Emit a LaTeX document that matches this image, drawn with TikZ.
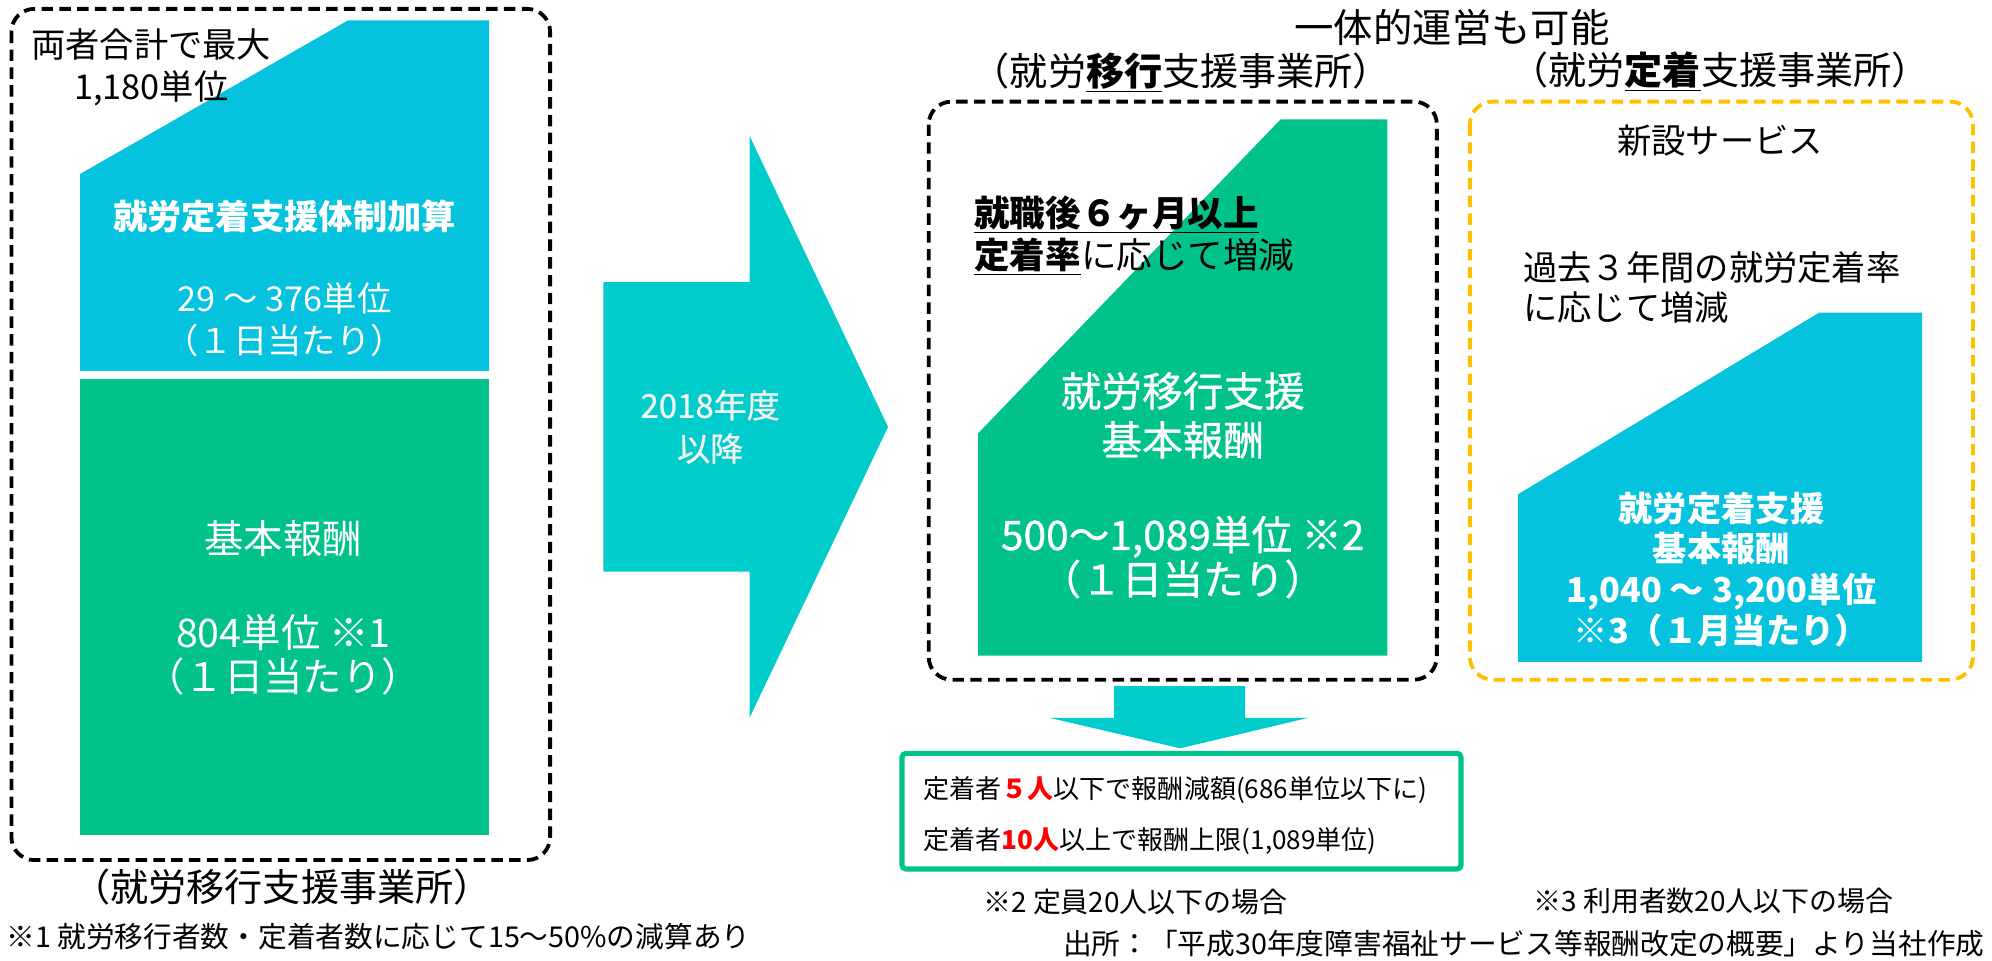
\documentclass[tikz,border=0pt]{standalone}
\usepackage{fontspec}
\setmainfont{Noto Sans CJK JP}
\newfontfamily\medfont[FakeBold=0.8]{Noto Sans CJK JP}
\definecolor{cblue}{HTML}{05C3DE}
\definecolor{cteal}{HTML}{00CCCC}
\definecolor{cgreen}{HTML}{00C28A}
\definecolor{corange}{HTML}{FFC000}
\definecolor{cred}{HTML}{FF0000}
\definecolor{cwhite}{HTML}{F2F2F2}
\newcommand\fsz[2]{\fontsize{#1}{#2}\selectfont}
\begin{document}
\begin{tikzpicture}[x=1pt,y=-1pt,
  txt/.style={inner sep=0pt, outer sep=0pt, align=center},
  ltxt/.style={inner sep=0pt, outer sep=0pt, anchor=west},
  dbox/.style={line width=3pt, dash pattern=on 9pt off 5pt, rounded corners=18pt},
  wtxt/.style={txt, text=white}]
\useasboundingbox (0,0) rectangle (1568,756);

% ---------- left panel ----------
\fill[cblue] (63,292) -- (63,137) -- (274,16) -- (385,16) -- (385,292) -- cycle;
\fill[cgreen] (63,298) rectangle (385,657);
\draw[dbox, black] (9,7) rectangle (433,677);
\node[txt, font=\fsz{27pt}{33pt}] (lmax) at (119,53) {両者合計で最大\\1,180単位};
\node[wtxt, font=\fsz{27pt}{33pt}\bfseries] (lkasan) at (224,170) {就労定着支援体制加算};
\node[wtxt, font=\fsz{27pt}{33pt}] (lkasanv) at (224,251.5) {29 ～ 376単位\\（１日当たり）};
\node[wtxt, font=\fsz{31pt}{35pt}] (lkihon) at (223,424) {基本報酬};
\node[wtxt, font=\fsz{31pt}{35pt}] (lkihonv) at (223,515.5) {804単位 ※1\\（１日当たり）};
\node[txt, font=\fsz{30pt}{34pt}] (llabel) at (222,698) {（就労移行支援事業所）};
\node[ltxt, font=\fsz{22.6pt}{26pt}] (note1) at (5,737) {※1 就労移行者数・定着者数に応じて15～50\%の減算あり};

% ---------- big arrow ----------
\fill[cteal] (475,222) -- (590,222) -- (590,107) -- (699,336) -- (590,565) -- (590,450) -- (475,450) -- cycle;
\node[txt, text=cwhite, font=\fsz{26pt}{34pt}\medfont] (year) at (559,336) {2018年度\\以降};

% ---------- middle panel ----------
\node[txt, font=\fsz{31pt}{36pt}] (title) at (1143,22) {一体的運営も可能};
\node[txt, font=\fsz{30pt}{34pt}] (mlabel) at (930,57) {（就労\underline{\textbf{移行}}支援事業所）};
\fill[cgreen] (770,516) -- (770,341) -- (1008,94) -- (1092,94) -- (1092,516) -- cycle;
\draw[dbox, black] (731,80) rectangle (1131,535);
\node[ltxt, font=\fsz{28pt}{34pt}] (mrate1) at (767,168.5) {\underline{\textbf{就職後６ヶ月以上}}};
\node[ltxt, font=\fsz{28pt}{34pt}] (mrate2) at (767,202) {\underline{\textbf{定着率}}に応じて増減};
\node[wtxt, font=\fsz{32pt}{38.5pt}\medfont] (mkihon) at (931,327) {就労移行支援\\基本報酬};
\node[wtxt, font=\fsz{32pt}{35pt}\medfont] (mkihonv) at (931,438.5) {500～1,089単位 ※2\\（１日当たり）};

% ---------- down arrow + result box ----------
\fill[cteal] (877,540) -- (980,540) -- (980,565) -- (1030,565) -- (929,589) -- (826,565) -- (877,565) -- cycle;
\draw[cgreen, line width=4pt, rounded corners=3pt] (710,593) rectangle (1150,684);
\node[ltxt, font=\fsz{20.5pt}{24pt}] (res1) at (727,622) {定着者\textcolor{cred}{\textbf{５人}}以下で報酬減額(686単位以下に)};
\node[ltxt, font=\fsz{20.5pt}{24pt}] (res2) at (727,662) {定着者\textcolor{cred}{\textbf{10人}}以上で報酬上限(1,089単位)};
\node[ltxt, font=\fsz{22pt}{26pt}] (note2) at (774,710) {※2 定員20人以下の場合};

% ---------- right panel ----------
\node[txt, font=\fsz{30pt}{34pt}] (rlabel) at (1354,56) {（就労\underline{\textbf{定着}}支援事業所）};
\fill[cblue] (1195,521) -- (1195,389) -- (1432,246) -- (1513,246) -- (1513,521) -- cycle;
\draw[dbox, corange] (1157,80) rectangle (1553,535);
\node[txt, font=\fsz{27pt}{33pt}] (rnew) at (1354,111) {新設サービス};
\node[ltxt, font=\fsz{27pt}{32pt}] (rpast1) at (1199,210.5) {過去３年間の就労定着率};
\node[ltxt, font=\fsz{27pt}{32pt}] (rpast2) at (1199,242) {に応じて増減};
\node[wtxt, font=\fsz{27pt}{32pt}\bfseries] (rkihon) at (1355,448) {就労定着支援\\基本報酬\\1,040 ～ 3,200単位\\※3（１月当たり）};
\node[ltxt, font=\fsz{22pt}{26pt}] (note3) at (1207,709) {※3 利用者数20人以下の場合};
\node[inner sep=0pt, outer sep=0pt, anchor=east, font=\fsz{22.6pt}{26pt}] (src) at (1562,743) {出所：「平成30年度障害福祉サービス等報酬改定の概要」より当社作成};
\end{tikzpicture}
\end{document}
